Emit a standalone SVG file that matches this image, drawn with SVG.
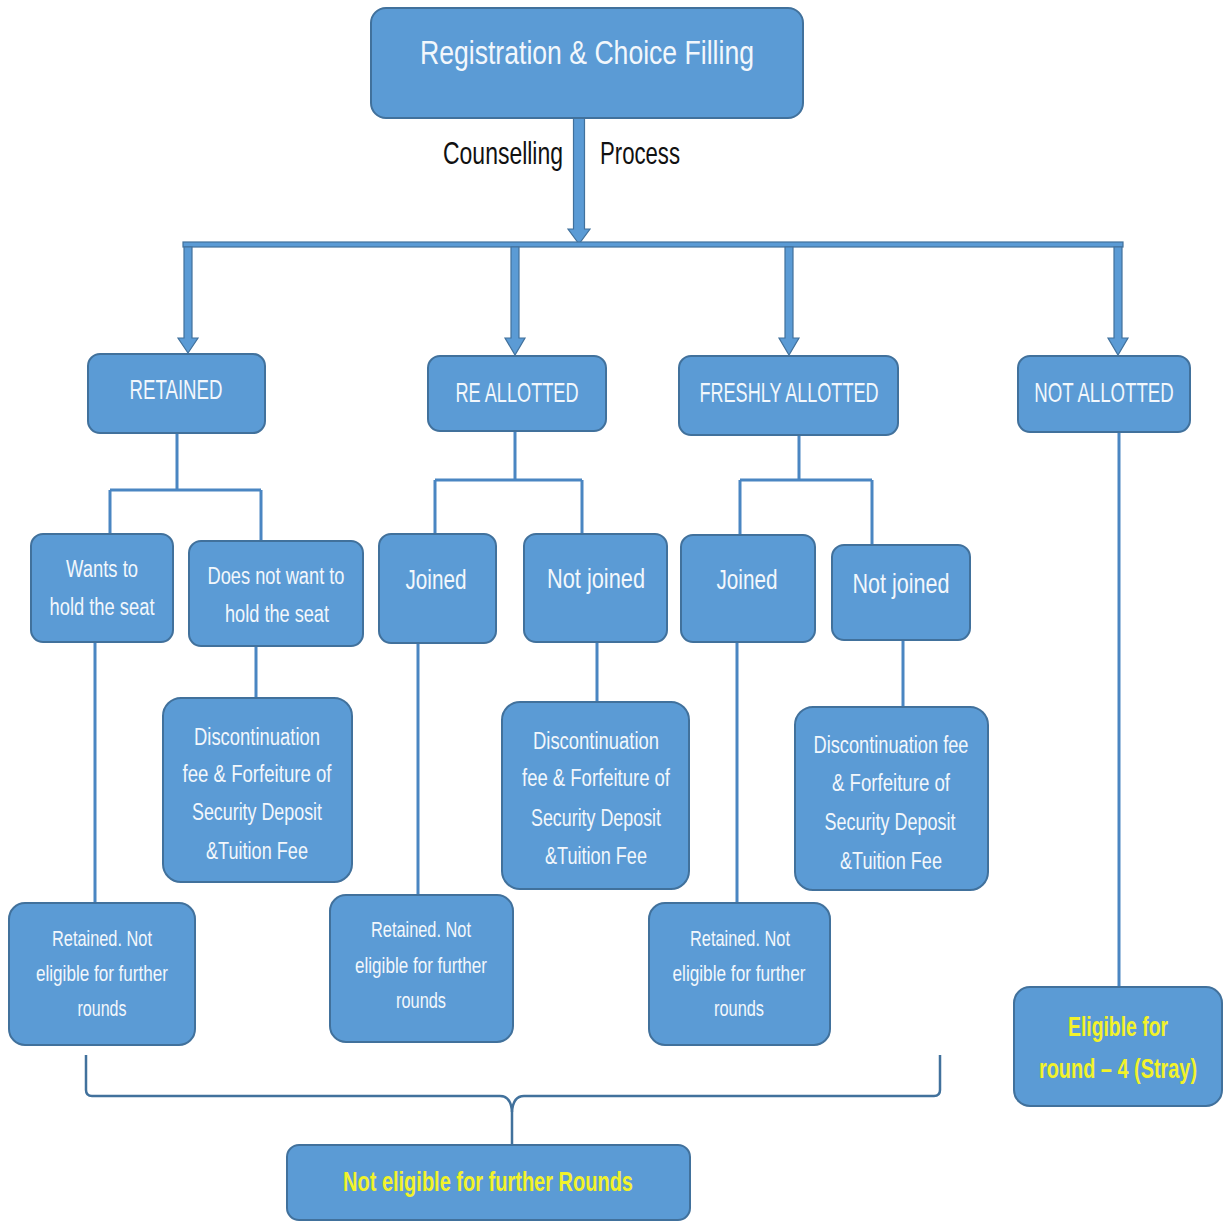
<svg xmlns="http://www.w3.org/2000/svg" width="1223" height="1221" viewBox="0 0 1223 1221">
<style>
.box{fill:#5b9bd5;stroke:#41719c;stroke-width:2}
.t{font-family:"Liberation Sans",Arial,sans-serif;fill:#f2f7fc;text-anchor:middle}
.y{font-family:"Liberation Sans",Arial,sans-serif;fill:#f2f22a;text-anchor:middle;font-weight:bold}
.k{font-family:"Liberation Sans",Arial,sans-serif;fill:#111;text-anchor:middle}
.ln{fill:none;stroke:#4a86c2;stroke-width:3}
.arr{fill:#5b9bd5;stroke:#41719c;stroke-width:1.2}
.br{fill:none;stroke:#41719c;stroke-width:2.5}
</style>
<rect width="1223" height="1221" fill="#ffffff"/>
<g id="connectors">
<polygon class="arr" points="573.5,118 584.5,118 584.5,229 590,229 579,244 568,229 573.5,229"/>
<rect class="arr" x="183" y="242" width="940" height="5"/>
<polygon class="arr" points="184,247 192,247 192,338 198,338 188,353 178,338 184,338"/>
<polygon class="arr" points="511,247 519,247 519,338 525,338 515,355 505,338 511,338"/>
<polygon class="arr" points="785,247 793,247 793,338 799,338 789,355 779,338 785,338"/>
<polygon class="arr" points="1114,247 1122,247 1122,338 1128,338 1118,355 1108,338 1114,338"/>
<path class="ln" d="M177,433 V490 M110,490 H261 M110,490 V534 M261,490 V541"/>
<path class="ln" d="M95,642 V903 M256,646 V698"/>
<path class="ln" d="M515,431 V480 M435,480 H582 M435,480 V534 M582,480 V534"/>
<path class="ln" d="M418,643 V895 M597,642 V702"/>
<path class="ln" d="M799,435 V480 M740,480 H872 M740,480 V535 M872,480 V545"/>
<path class="ln" d="M737,642 V903 M903,640 V707"/>
<path class="ln" d="M1119,432 V987"/>
<path class="br" d="M86,1055 V1090 Q86,1096 92,1096 H500 Q511,1096 512,1112 V1145"/>
<path class="br" d="M940,1055 V1090 Q940,1096 934,1096 H524 Q513,1096 512,1112"/>
</g>
<g id="n-registration">
<rect class="box" x="371" y="8" width="432" height="110" rx="15"/>
<text class="t" x="587" y="64" font-size="34" textLength="334" lengthAdjust="spacingAndGlyphs">Registration &amp; Choice Filling</text>
</g>
<g id="label-counselling">
<text class="k" x="503" y="164" font-size="32" textLength="120" lengthAdjust="spacingAndGlyphs">Counselling</text>
<text class="k" x="640" y="164" font-size="32" textLength="80" lengthAdjust="spacingAndGlyphs">Process</text>
</g>
<g id="n-retained">
<rect class="box" x="88" y="354" width="177" height="79" rx="12"/>
<text class="t" x="176" y="399" font-size="28" textLength="93" lengthAdjust="spacingAndGlyphs">RETAINED</text>
</g>
<g id="n-reallotted">
<rect class="box" x="428" y="356" width="178" height="75" rx="12"/>
<text class="t" x="517" y="402" font-size="28" textLength="123" lengthAdjust="spacingAndGlyphs">RE ALLOTTED</text>
</g>
<g id="n-freshly">
<rect class="box" x="679" y="356" width="219" height="79" rx="12"/>
<text class="t" x="789" y="402" font-size="28" textLength="179" lengthAdjust="spacingAndGlyphs">FRESHLY ALLOTTED</text>
</g>
<g id="n-notallotted">
<rect class="box" x="1018" y="356" width="172" height="76" rx="12"/>
<text class="t" transform="translate(1104,402) scale(0.666,1)" x="0" y="0" font-size="28">NOT ALLOTTED</text>
</g>
<g id="n-wants">
<rect class="box" x="31" y="534" width="142" height="108" rx="12"/>
<text class="t" x="102" y="577" font-size="23" textLength="72" lengthAdjust="spacingAndGlyphs">Wants to</text>
<text class="t" x="102" y="615" font-size="23" textLength="105" lengthAdjust="spacingAndGlyphs">hold the seat</text>
</g>
<g id="n-doesnot">
<rect class="box" x="189" y="541" width="174" height="105" rx="12"/>
<text class="t" x="276" y="584" font-size="23" textLength="137" lengthAdjust="spacingAndGlyphs">Does not want to</text>
<text class="t" x="277" y="622" font-size="23" textLength="104" lengthAdjust="spacingAndGlyphs">hold the seat</text>
</g>
<g id="n-joined1">
<rect class="box" x="379" y="534" width="117" height="109" rx="12"/>
<text class="t" x="436" y="589" font-size="28" textLength="61" lengthAdjust="spacingAndGlyphs">Joined</text>
</g>
<g id="n-notjoined1">
<rect class="box" x="524" y="534" width="143" height="108" rx="12"/>
<text class="t" x="596" y="588" font-size="28" textLength="98" lengthAdjust="spacingAndGlyphs">Not joined</text>
</g>
<g id="n-joined2">
<rect class="box" x="681" y="535" width="134" height="107" rx="12"/>
<text class="t" x="747" y="589" font-size="28" textLength="61" lengthAdjust="spacingAndGlyphs">Joined</text>
</g>
<g id="n-notjoined2">
<rect class="box" x="832" y="545" width="138" height="95" rx="12"/>
<text class="t" x="901" y="593" font-size="28" textLength="97" lengthAdjust="spacingAndGlyphs">Not joined</text>
</g>
<g id="n-disc1">
<rect class="box" x="163" y="698" width="189" height="184" rx="18"/>
<text class="t" x="257" y="745" font-size="23" textLength="126" lengthAdjust="spacingAndGlyphs">Discontinuation</text>
<text class="t" x="257" y="782" font-size="23" textLength="149" lengthAdjust="spacingAndGlyphs">fee &amp; Forfeiture of</text>
<text class="t" x="257" y="820" font-size="23" textLength="130" lengthAdjust="spacingAndGlyphs">Security Deposit</text>
<text class="t" x="257" y="859" font-size="23" textLength="102" lengthAdjust="spacingAndGlyphs">&amp;Tuition Fee</text>
</g>
<g id="n-disc2">
<rect class="box" x="502" y="702" width="187" height="187" rx="18"/>
<text class="t" x="596" y="749" font-size="23" textLength="126" lengthAdjust="spacingAndGlyphs">Discontinuation</text>
<text class="t" x="596" y="786" font-size="23" textLength="148" lengthAdjust="spacingAndGlyphs">fee &amp; Forfeiture of</text>
<text class="t" x="596" y="826" font-size="23" textLength="130" lengthAdjust="spacingAndGlyphs">Security Deposit</text>
<text class="t" x="596" y="864" font-size="23" textLength="102" lengthAdjust="spacingAndGlyphs">&amp;Tuition Fee</text>
</g>
<g id="n-disc3">
<rect class="box" x="795" y="707" width="193" height="183" rx="18"/>
<text class="t" x="891" y="753" font-size="23" textLength="155" lengthAdjust="spacingAndGlyphs">Discontinuation fee</text>
<text class="t" x="891" y="791" font-size="23" textLength="118" lengthAdjust="spacingAndGlyphs">&amp; Forfeiture of</text>
<text class="t" x="890" y="830" font-size="23" textLength="131" lengthAdjust="spacingAndGlyphs">Security Deposit</text>
<text class="t" x="891" y="869" font-size="23" textLength="102" lengthAdjust="spacingAndGlyphs">&amp;Tuition Fee</text>
</g>
<g id="n-ret1">
<rect class="box" x="9" y="903" width="186" height="142" rx="16"/>
<text class="t" x="102" y="946" font-size="22" textLength="100" lengthAdjust="spacingAndGlyphs">Retained. Not</text>
<text class="t" x="102" y="981" font-size="22" textLength="132" lengthAdjust="spacingAndGlyphs">eligible for further</text>
<text class="t" x="102" y="1016" font-size="22" textLength="49" lengthAdjust="spacingAndGlyphs">rounds</text>
</g>
<g id="n-ret2">
<rect class="box" x="330" y="895" width="183" height="147" rx="16"/>
<text class="t" x="421" y="937" font-size="22" textLength="100" lengthAdjust="spacingAndGlyphs">Retained. Not</text>
<text class="t" x="421" y="973" font-size="22" textLength="132" lengthAdjust="spacingAndGlyphs">eligible for further</text>
<text class="t" x="421" y="1008" font-size="22" textLength="50" lengthAdjust="spacingAndGlyphs">rounds</text>
</g>
<g id="n-ret3">
<rect class="box" x="649" y="903" width="181" height="142" rx="16"/>
<text class="t" x="740" y="946" font-size="22" textLength="100" lengthAdjust="spacingAndGlyphs">Retained. Not</text>
<text class="t" x="739" y="981" font-size="22" textLength="133" lengthAdjust="spacingAndGlyphs">eligible for further</text>
<text class="t" x="739" y="1016" font-size="22" textLength="50" lengthAdjust="spacingAndGlyphs">rounds</text>
</g>
<g id="n-eligible">
<rect class="box" x="1014" y="987" width="208" height="119" rx="16"/>
<text class="y" x="1118" y="1036" font-size="27" textLength="100" lengthAdjust="spacingAndGlyphs">Eligible for</text>
<text class="y" transform="translate(1118,1078) scale(0.737,1)" x="0" y="0" font-size="27">round – 4 (Stray)</text>
</g>
<g id="n-noteligible">
<rect class="box" x="287" y="1145" width="403" height="75" rx="12"/>
<text class="y" x="488" y="1191" font-size="27" textLength="290" lengthAdjust="spacingAndGlyphs">Not eligible for further Rounds</text>
</g>
</svg>
